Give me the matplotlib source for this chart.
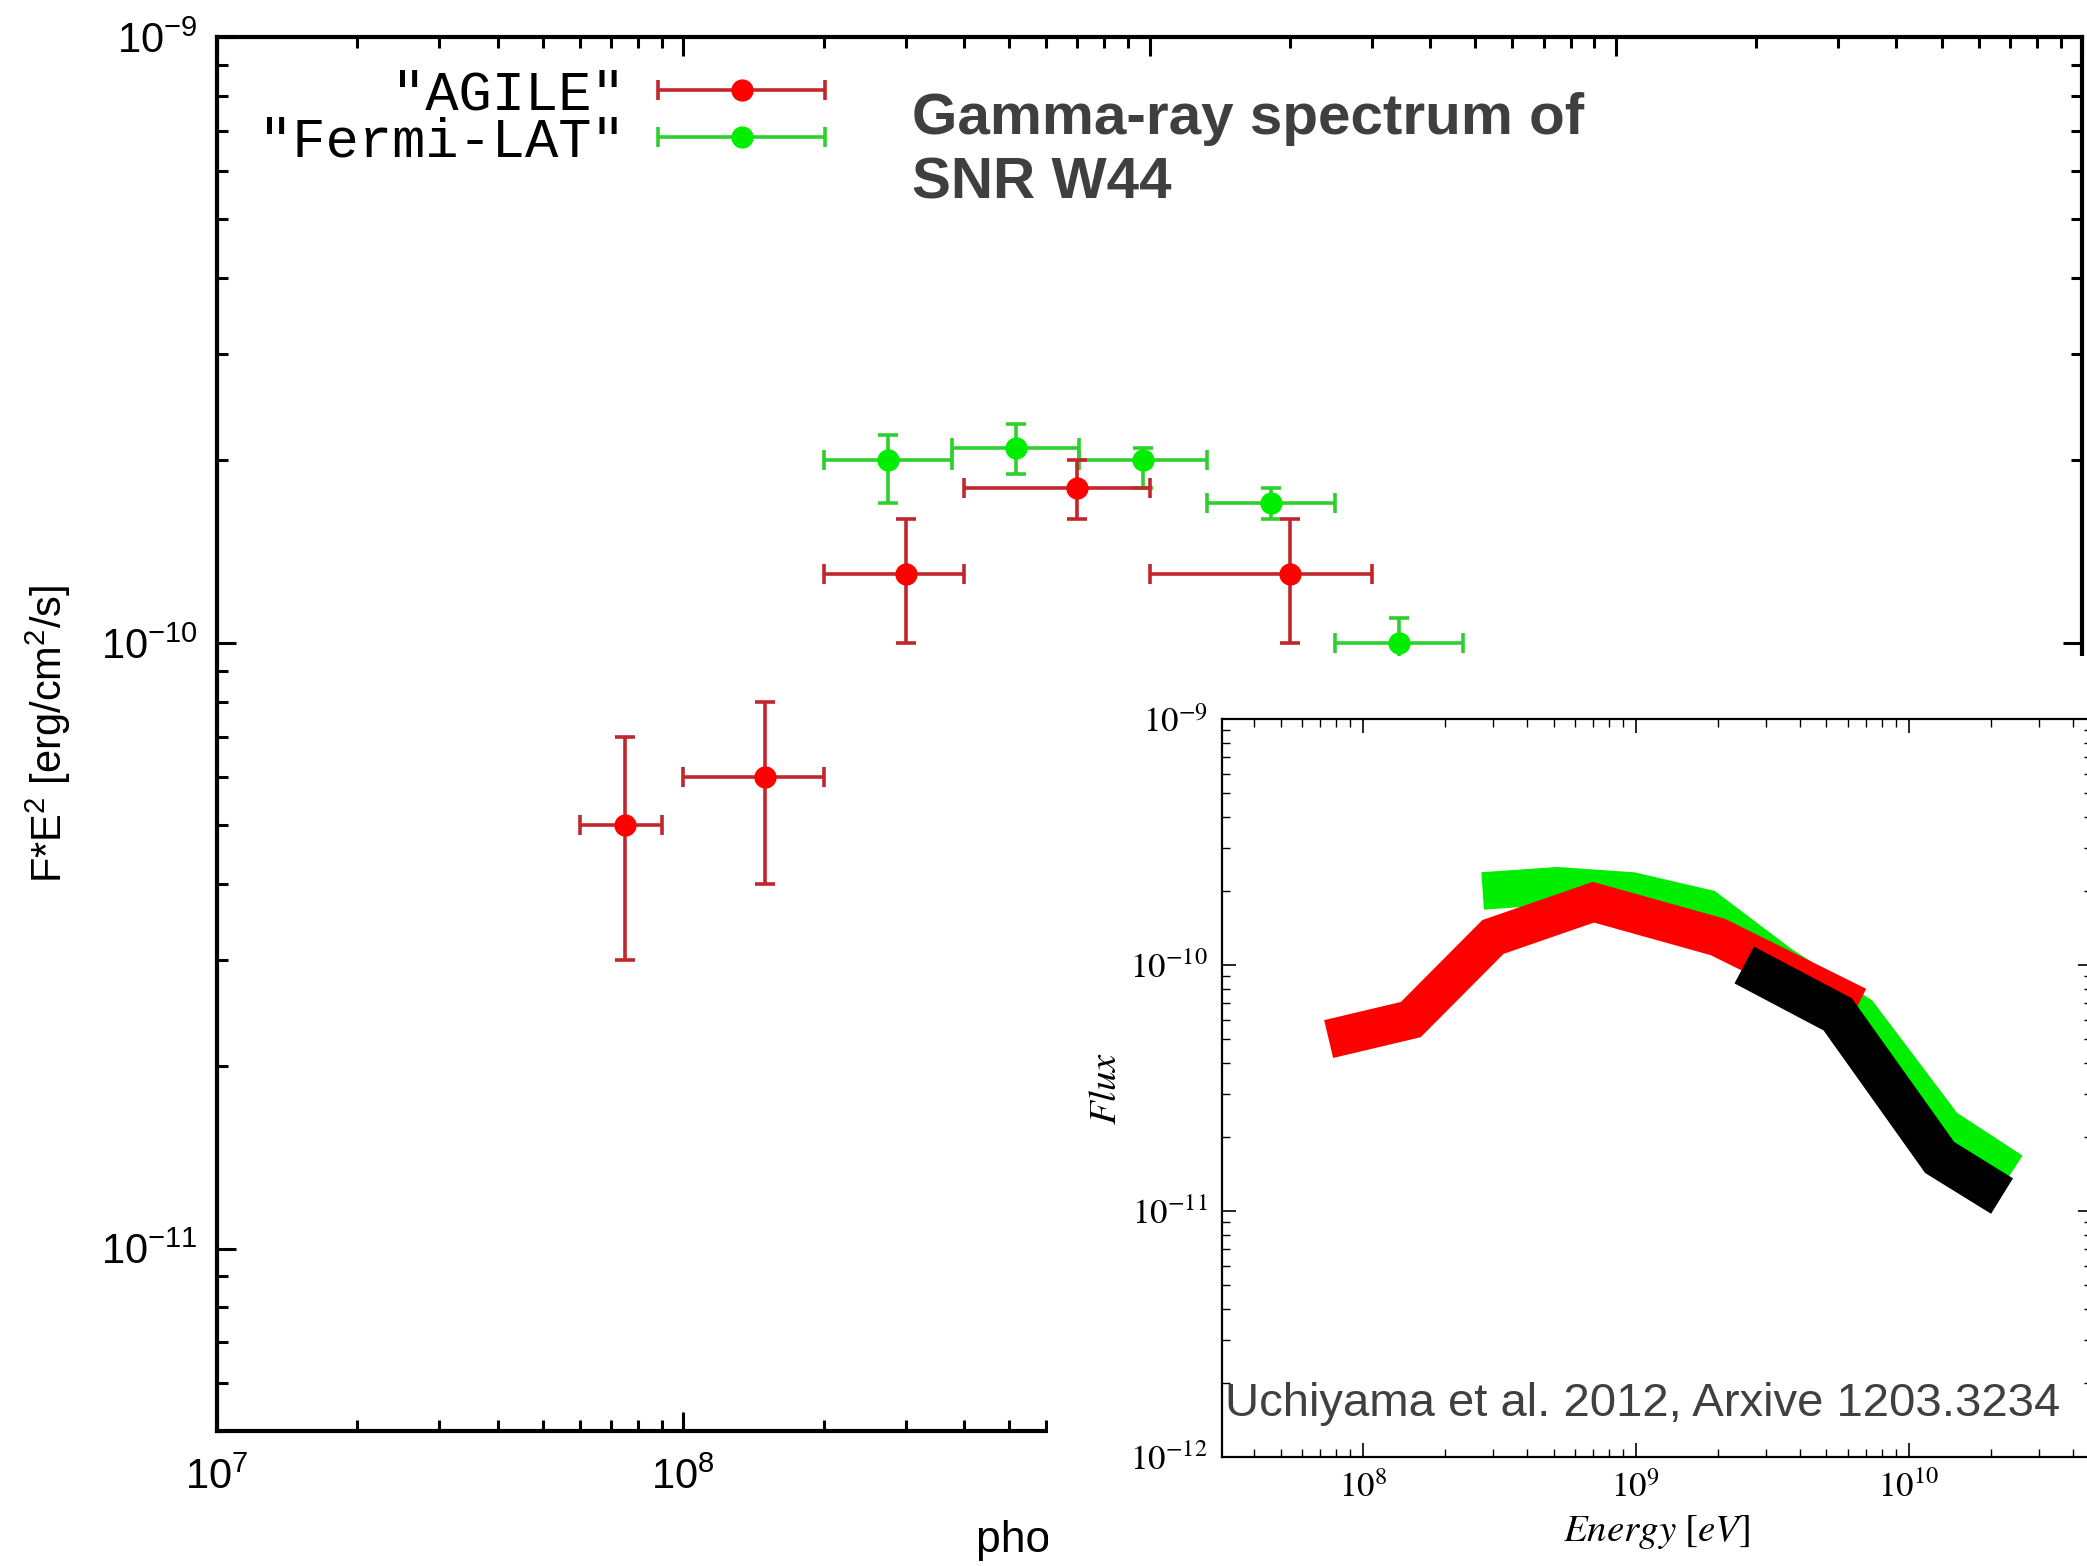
import matplotlib
matplotlib.use("Agg")
import matplotlib.pyplot as plt
from matplotlib.container import ErrorbarContainer
from matplotlib.legend_handler import HandlerErrorbar
from matplotlib.font_manager import FontProperties
from matplotlib.ticker import LogLocator, NullFormatter
import numpy as np

plt.rcParams['font.family'] = 'Liberation Sans'
plt.rcParams['mathtext.fontset'] = 'custom'
plt.rcParams['mathtext.rm'] = 'Liberation Sans'
plt.rcParams['mathtext.it'] = 'Liberation Sans:italic'

# AGILE points (energy bin edges in eV, E^2 F in erg/cm^2/s)
agile_e = [7.5e7, 1.5e8, 3.0e8, 7.0e8, 2.0e9]
agile_lo = [6.0e7, 1.0e8, 2.0e8, 4.0e8, 1.0e9]
agile_hi = [9.0e7, 2.0e8, 4.0e8, 1.0e9, 3.0e9]
agile_flux = [5.0e-11, 6.0e-11, 1.3e-10, 1.8e-10, 1.3e-10]
agile_err = [2.0e-11, 2.0e-11, 3.0e-11, 2.0e-11, 3.0e-11]

# Fermi-LAT points
fermi_e = [2.75e8, 5.16e8, 9.7e8, 1.82e9, 3.43e9]
fermi_lo = [2.0e8, 3.77e8, 7.07e8, 1.33e9, 2.5e9]
fermi_hi = [3.77e8, 7.07e8, 1.33e9, 2.5e9, 4.7e9]
fermi_flux = [2.0e-10, 2.1e-10, 2.0e-10, 1.7e-10, 1.0e-10]
fermi_err_lo = [3.0e-11, 2.0e-11, 2.0e-11, 1.0e-11, 1.0e-11]
fermi_err_hi = [2.0e-11, 2.0e-11, 1.0e-11, 1.0e-11, 1.0e-11]

# bands from Uchiyama et al. 2012
band_agile_e = [7.5e7, 1.5e8, 3.0e8, 7.0e8, 2.0e9, 6.5e9]
band_agile_f = [5.0e-11, 6.0e-11, 1.3e-10, 1.8e-10, 1.3e-10, 6.8e-11]
band_fermi_e = [2.75e8, 5.16e8, 9.7e8, 1.82e9, 3.43e9, 6.6e9, 1.35e10, 2.4e10]
band_fermi_f = [2.0e-10, 2.1e-10, 2.0e-10, 1.7e-10, 1.0e-10, 6.3e-11, 2.2e-11, 1.45e-11]
band_uchi_e = [2.5e9, 5.5e9, 1.3e10, 2.2e10]
band_uchi_f = [1.0e-10, 6.3e-11, 1.65e-11, 1.15e-11]

legend_labels = ['    "AGILE"', '"Fermi-LAT"']
inset_xticks = [1e8, 1e9, 1e10]
inset_xticklabels = [r'$\mathit{10^{8}}$', r'$\mathit{10^{9}}$', r'$\mathit{10^{10}}$']
inset_yticks = [1e-12, 1e-11, 1e-10, 1e-9]
inset_yticklabels = [r'$\mathit{10^{-12}}$', r'$\mathit{10^{-11}}$',
                     r'$\mathit{10^{-10}}$', r'$\mathit{10^{-9}}$']

W, H = 2087, 1566
fig = plt.figure(figsize=(W / 100, H / 100), dpi=100)

# ---- main panel
ax = fig.add_axes([217 / W, 135 / H, (2082 - 217) / W, (1431 - 37) / H])
ax.set_xscale('log')
ax.set_yscale('log')
ax.set_xlim(1e7, 1e11)
ax.set_ylim(5e-12, 1e-9)

red_bar = '#c0262b'
green_bar = '#2fcf2f'

agile_xerr = [np.array(agile_e) - np.array(agile_lo), np.array(agile_hi) - np.array(agile_e)]
fermi_xerr = [np.array(fermi_e) - np.array(fermi_lo), np.array(fermi_hi) - np.array(fermi_e)]

eb_a = ax.errorbar(agile_e, agile_flux, xerr=agile_xerr, yerr=agile_err, fmt='o',
                   color='#ff0000', ecolor=red_bar, elinewidth=2.6, capsize=7,
                   capthick=2.6, markersize=15, zorder=3)
eb_f = ax.errorbar(fermi_e, fermi_flux, xerr=fermi_xerr, yerr=[fermi_err_lo, fermi_err_hi],
                   fmt='o', color='#00ee00', ecolor=green_bar, elinewidth=2.6, capsize=7,
                   capthick=2.6, markersize=15, zorder=2)

for s in ax.spines.values():
    s.set_linewidth(3)
ax.tick_params(which='both', direction='in', top=True, right=True)
ax.tick_params(which='major', length=14, width=2.2, labelsize=30, pad=14)
ax.tick_params(axis='x', which='major', pad=19)
ax.tick_params(which='minor', length=8, width=2.2)
ax.xaxis.set_minor_formatter(NullFormatter())
ax.yaxis.set_minor_formatter(NullFormatter())

ax.set_ylabel(r'F*E$^2$ [erg/cm$^2$/s]', fontsize=30)
ax.yaxis.set_label_coords(-0.077, 0.5)
ax.set_xlabel('photon energy [eV]', fontsize=32, ha='left')
ax.xaxis.set_label_coords(0.407, -0.064)

ax.legend(handles=[eb_a, eb_f], labels=legend_labels,
          handler_map={ErrorbarContainer: HandlerErrorbar(xerr_size=1.5, yerr_size=0)},
          prop=FontProperties(family='Liberation Mono', size=40),
          markerfirst=False, frameon=False, handlelength=3, handletextpad=0.6,
          labelspacing=-0.08, borderpad=0, borderaxespad=0, loc='upper right',
          bbox_to_anchor=(825 / W, 1 - 69 / H), bbox_transform=fig.transFigure)

fig.text(912 / W, 1 - 92 / H, 'Gamma-ray spectrum of\nSNR W44', fontsize=42,
         fontweight='bold', color='#3f3f3f', ha='left', va='top', linespacing=1.24)

# ---- white backing for the inset
box = fig.add_axes([1048 / W, 0, 1 - 1048 / W, (H - 656) / H])
box.set_facecolor('white')
box.set_xticks([])
box.set_yticks([])
for s in box.spines.values():
    s.set_visible(False)

# ---- inset: Uchiyama et al. bands
ax_in = fig.add_axes([1222 / W, 109 / H, (2092 - 1222) / W, (1457 - 719) / H])
ax_in.set_xscale('log')
ax_in.set_yscale('log')
ax_in.set_xlim(3.05e7, 4.7e10)
ax_in.set_ylim(1e-12, 1e-9)

ax_in.plot(band_fermi_e, band_fermi_f, color='#00ee00', lw=27,
           solid_capstyle='butt', solid_joinstyle='miter', zorder=2)
ax_in.plot(band_agile_e, band_agile_f, color='#ff0000', lw=28,
           solid_capstyle='butt', solid_joinstyle='miter', zorder=3)
ax_in.plot(band_uchi_e, band_uchi_f, color='#000000', lw=30,
           solid_capstyle='butt', solid_joinstyle='miter', zorder=4)

ax_in.set_xticks(inset_xticks, labels=inset_xticklabels, math_fontfamily='stix', fontsize=25)
ax_in.set_yticks(inset_yticks, labels=inset_yticklabels, math_fontfamily='stix', fontsize=25)
ax_in.xaxis.set_minor_locator(LogLocator(subs=np.arange(2, 10)))
ax_in.yaxis.set_minor_locator(LogLocator(subs=np.arange(2, 10)))
ax_in.xaxis.set_minor_formatter(NullFormatter())
ax_in.yaxis.set_minor_formatter(NullFormatter())
for s in ax_in.spines.values():
    s.set_linewidth(1.6)
ax_in.tick_params(which='both', direction='in', top=True, right=True)
ax_in.tick_params(which='major', length=10, width=1.2, pad=10)
ax_in.tick_params(which='minor', length=5.5, width=1.0)

ax_in.set_xlabel(r'$Energy\ [eV]$', fontsize=28, math_fontfamily='stix')
ax_in.xaxis.set_label_coords(0.5, -0.076)
ax_in.set_ylabel(r'$Flux$', fontsize=28, math_fontfamily='stix')
ax_in.yaxis.set_label_coords(-0.113, 0.5)

ax_in.text(0.004, 0.072, 'Uchiyama et al. 2012, Arxive 1203.3234', transform=ax_in.transAxes,
           fontsize=34, color='#404040', ha='left', va='center')

fig.savefig('out.png', dpi=100)
